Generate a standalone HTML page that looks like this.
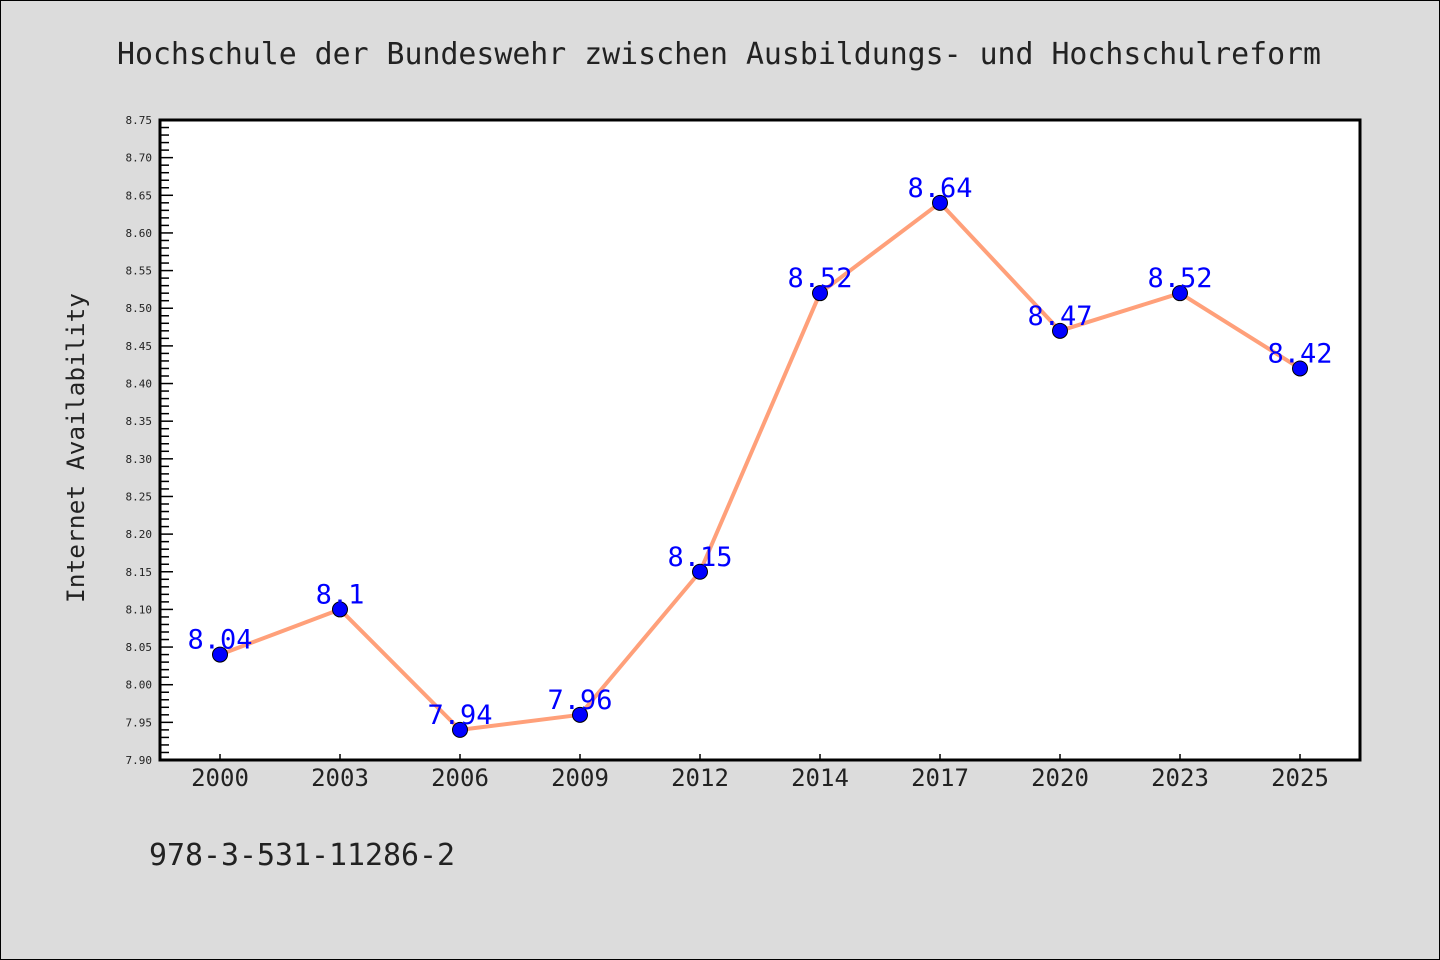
<!DOCTYPE html>
<html><head><meta charset="utf-8"><style>
html,body{margin:0;padding:0;background:#dcdcdc}
svg{display:block}
text{font-family:"WenQuanYi Zen Hei","DejaVu Sans Mono",monospace}
</style></head><body>
<svg id="chart" width="1440" height="960" xmlns="http://www.w3.org/2000/svg">
<rect x="0.5" y="0.5" width="1439" height="959" fill="#dcdcdc" stroke="#000" stroke-width="1"/>
<text x="117" y="64" font-size="30" fill="#222" textLength="1204" lengthAdjust="spacingAndGlyphs">Hochschule der Bundeswehr zwischen Ausbildungs- und Hochschulreform</text>
<rect x="160" y="120" width="1200" height="640" fill="#fff"/>
<g id="yaxis"></g>
<g id="xaxis"></g>
<g id="series"></g>
<rect x="160" y="120" width="1200" height="640" fill="none" stroke="#000" stroke-width="3"/>
<text transform="translate(84,448) rotate(-90)" text-anchor="middle" font-size="24" fill="#222" textLength="310" lengthAdjust="spacingAndGlyphs">Internet Availability</text>
<text x="149" y="865" font-size="30" fill="#222" textLength="306" lengthAdjust="spacingAndGlyphs">978-3-531-11286-2</text>
</svg>
<script>
const categories = ["2000","2003","2006","2009","2012","2014","2017","2020","2023","2025"];
const values = [8.04, 8.1, 7.94, 7.96, 8.15, 8.52, 8.64, 8.47, 8.52, 8.42];
const valueLabels = ["8.04","8.1","7.94","7.96","8.15","8.52","8.64","8.47","8.52","8.42"];
const yTicks = ["7.90","7.95","8.00","8.05","8.10","8.15","8.20","8.25","8.30","8.35","8.40","8.45","8.50","8.55","8.60","8.65","8.70","8.75"];
const yMin = 7.90, yMax = 8.75;
const NS = "http://www.w3.org/2000/svg";
const L=160,R=1360,T=120,B=760;
function y(v){return B-(v-yMin)/(yMax-yMin)*(B-T);}
function x(i){return 220+i*120;}
function mk(tag,attrs,parent){const e=document.createElementNS(NS,tag);for(const k in attrs)e.setAttribute(k,attrs[k]);parent.appendChild(e);return e;}
const ya=document.getElementById('yaxis');
for(let i=0;i<yTicks.length;i++){
  const v=parseFloat(yTicks[i]);const yy=y(v);
  const t=mk('line',{x1:L,x2:L+13,y1:yy,y2:yy,stroke:'#000','stroke-width':1.5},ya);
  
  
  const lb=mk('text',{x:152,y:yy+4,'text-anchor':'end','font-size':11,fill:'#222'},ya);
  lb.textContent=yTicks[i];
  
  
  if(i<yTicks.length-1){
    for(let m=1;m<5;m++){
      const my=y(v+m*0.01);
      const mt=mk('line',{x1:L,x2:L+9,y1:my,y2:my,stroke:'#000','stroke-width':1.5},ya);
      
      
    }
  }
}
const xa=document.getElementById('xaxis');
categories.forEach((c,i)=>{
  const t=mk('line',{x1:x(i),x2:x(i),y1:B,y2:B-6,stroke:'#000','stroke-width':1.5},xa);
  
  
  const lb=mk('text',{x:x(i),y:786,'text-anchor':'middle','font-size':24,fill:'#222'},xa);
  lb.textContent=c;
  
  
});
const s=document.getElementById('series');
const pl=mk('polyline',{points:values.map((v,i)=>x(i)+','+y(v)).join(' '),fill:'none',stroke:'#FFA07A','stroke-width':4,'stroke-linejoin':'round'},s);


values.forEach((v,i)=>{
  const c=mk('circle',{cx:x(i),cy:y(v),r:7.5,fill:'#0000ff',stroke:'#000','stroke-width':1},s);
  
  
});
values.forEach((v,i)=>{
  const t=mk('text',{x:x(i),y:y(v)-6,'text-anchor':'middle','font-size':27,fill:'#0000ff'},s);
  t.textContent=valueLabels[i];
  
  
});
</script>
</body></html>
